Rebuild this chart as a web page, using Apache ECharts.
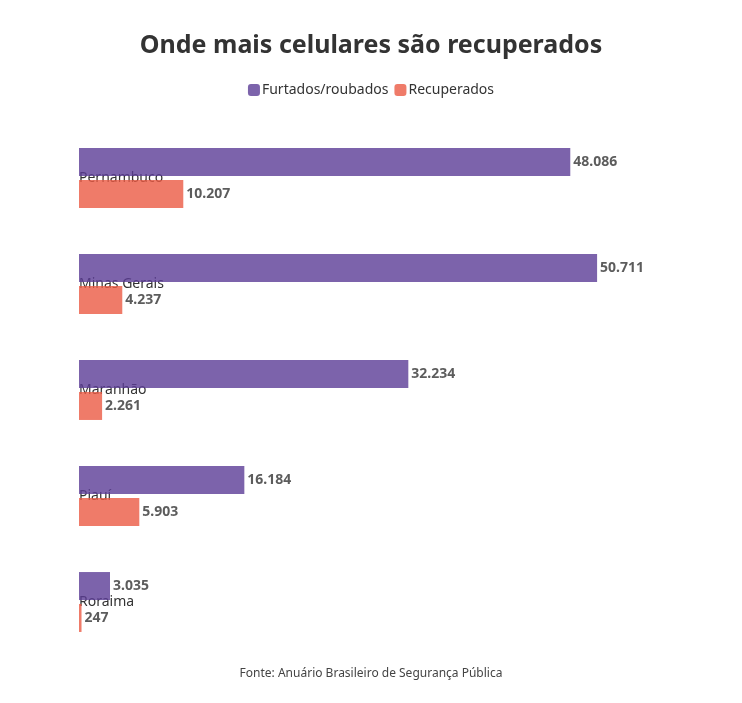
<!DOCTYPE html>
<html><head><meta charset="utf-8">
<script src="https://cdn.jsdelivr.net/npm/echarts@6/dist/echarts.min.js"></script>
<style>html,body{margin:0;background:#fff}#c{width:742px;height:703px}</style>
</head><body><div id="c"></div>
<script>
const categories = ["Pernambuco","Minas Gerais","Maranhão","Piauí","Roraima"];
const furtados = [48086,50711,32234,16184,3035];
const recuperados = [10207,4237,2261,5903,247];
const F = "Noto Sans";
const fmt = v => v.toLocaleString('de-DE');
const chart = echarts.init(document.getElementById('c'));
chart.setOption({
  animation:false,
  textStyle:{fontFamily:F},
  title:[{text:"Onde mais celulares são recuperados",left:'center',top:28,textStyle:{fontSize:25,fontWeight:'bold',color:'#333',fontFamily:F}},
         {text:"Fonte: Anuário Brasileiro de Segurança Pública",left:'center',top:663,textStyle:{fontSize:12,fontWeight:'normal',color:'#444',fontFamily:F}}],
  legend:{top:78,left:'center',itemWidth:12,itemHeight:12,itemGap:6,icon:'roundRect',textStyle:{fontSize:14,color:'#333',padding:[0,0,0,-3]},
    data:[{name:'Furtados/roubados'},{name:'Recuperados'}]},
  grid:{left:79,right:50,top:125,height:530},
  xAxis:{type:'value',min:0,max:60000,show:false},
  yAxis:{type:'category',inverse:true,data:categories,axisLine:{show:false},axisTick:{show:false},
    axisLabel:{inside:true,margin:0,align:'left',verticalAlign:'middle',padding:[0,0,84,0],fontSize:14,color:'#333'}},
  series:[
    {name:'Furtados/roubados',type:'bar',data:furtados,barWidth:28,barGap:'14%',color:'#5b3c96',itemStyle:{opacity:0.8},
     label:{show:true,position:'right',distance:3,formatter:p=>fmt(p.value),fontWeight:'bold',fontSize:14,color:'#333'}},
    {name:'Recuperados',type:'bar',data:recuperados,barWidth:28,color:'#eb5a44',itemStyle:{opacity:0.8},
     label:{show:true,position:'right',distance:3,formatter:p=>fmt(p.value),fontWeight:'bold',fontSize:14,color:'#333'}}
  ]
});
</script></body></html>
